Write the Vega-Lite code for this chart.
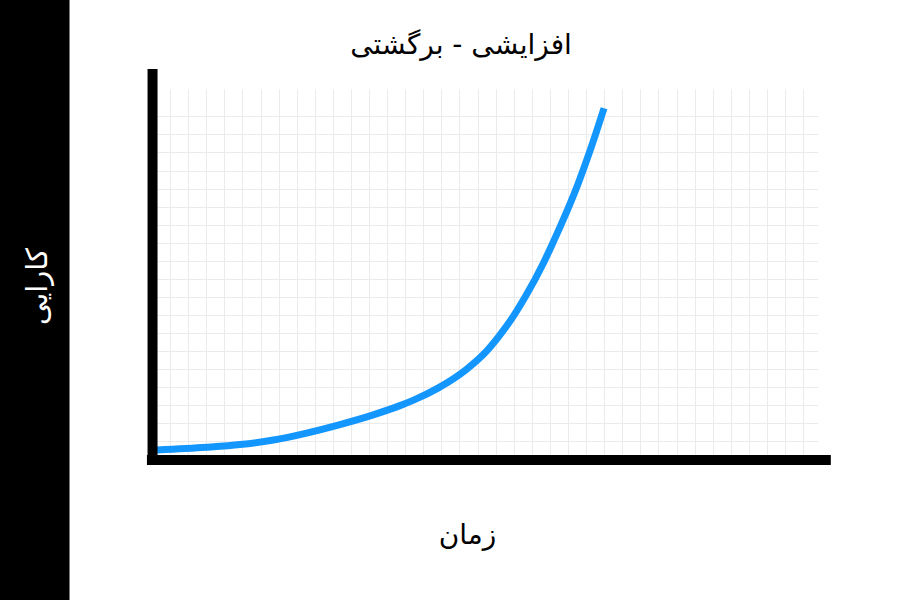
{
  "$schema": "https://vega.github.io/schema/vega-lite/v6.json",
  "width": 666,
  "height": 370,
  "autosize": {"type": "none"},
  "padding": {"left": 152, "top": 89, "right": 82, "bottom": 141},
  "background": "white",
  "title": {
    "text": "افزایشی - برگشتی",
    "font": "DejaVu Sans",
    "fontSize": 28,
    "fontWeight": "normal",
    "color": "black",
    "anchor": "middle",
    "baseline": "alphabetic",
    "offset": 0,
    "dx": -24,
    "dy": 83
  },
  "resolve": {"axis": {"y": "independent"}},
  "config": {
    "view": {"stroke": null},
    "font": "DejaVu Sans",
    "axis": {
      "grid": true,
      "gridColor": "#ebebeb",
      "gridWidth": 1,
      "domain": false,
      "ticks": false,
      "labels": false,
      "titleFont": "DejaVu Sans",
      "titleFontSize": 28,
      "titleFontWeight": "normal"
    },
    "axisX": {
      "titleColor": "black",
      "titleX": 315,
      "titleY": 84,
      "titleAlign": "center",
      "titleBaseline": "alphabetic"
    },
    "axisY": {
      "titleColor": "white",
      "titleFontSize": 29,
      "titleAngle": 270,
      "titleX": -106,
      "titleY": 197,
      "titleAlign": "center",
      "titleBaseline": "alphabetic"
    }
  },
  "layer": [
    {
      "data": {"values": [{}]},
      "mark": {"type": "rect", "color": "black"},
      "encoding": {
        "x": {"datum": -8.45, "type": "quantitative", "scale": {"domain": [0, 36.82], "nice": false, "zero": false}, "axis": {"title": "زمان", "values": [0,1,2,3,4,5,6,7,8,9,10,11,12,13,14,15,16,17,18,19,20,21,22,23,24,25,26,27,28,29,30,31,32,33,34,35,36]}},
        "x2": {"datum": -4.56},
        "y": {"datum": 25.5, "type": "quantitative", "scale": {"domain": [0, 20.52], "nice": false, "zero": false}, "axis": {"title": null, "orient": "left", "grid": true, "zindex": 0, "values": [0,1,2,3,4,5,6,7,8,9,10,11,12,13,14,15,16,17,18,19]}},
        "y2": {"datum": -7.9}
      }
    },
    {
      "data": {
        "values": [
          {"time": 0.28, "performance": 0.50},
          {"time": 3.02, "performance": 0.65},
          {"time": 4.87, "performance": 0.80},
          {"time": 6.71, "performance": 1.05},
          {"time": 8.55, "performance": 1.44},
          {"time": 10.39, "performance": 1.91},
          {"time": 12.23, "performance": 2.45},
          {"time": 13.71, "performance": 2.96},
          {"time": 14.43, "performance": 3.25},
          {"time": 15.81, "performance": 3.93},
          {"time": 17.36, "performance": 4.95},
          {"time": 18.47, "performance": 5.95},
          {"time": 19.29, "performance": 6.95},
          {"time": 20.01, "performance": 7.97},
          {"time": 20.62, "performance": 8.97},
          {"time": 21.67, "performance": 10.93},
          {"time": 22.11, "performance": 11.87},
          {"time": 22.61, "performance": 12.98},
          {"time": 23.52, "performance": 15.17},
          {"time": 24.27, "performance": 17.25},
          {"time": 24.99, "performance": 19.45}
        ]
      },
      "mark": {"type": "line", "color": "#1496ff", "strokeWidth": 7, "strokeCap": "butt", "interpolate": "monotone"},
      "encoding": {
        "x": {"field": "time", "type": "quantitative", "scale": {"domain": [0, 36.82], "nice": false, "zero": false}, "axis": {"title": "زمان", "values": [0,1,2,3,4,5,6,7,8,9,10,11,12,13,14,15,16,17,18,19,20,21,22,23,24,25,26,27,28,29,30,31,32,33,34,35,36]}},
        "y": {"field": "performance", "type": "quantitative", "scale": {"domain": [0, 20.52], "nice": false, "zero": false}, "axis": {"title": "کارایی", "orient": "left", "grid": false, "zindex": 2}}
      }
    },
    {
      "data": {"values": [{}]},
      "mark": {"type": "rule", "color": "black", "strokeWidth": 10},
      "encoding": {
        "x": {"datum": 0.03, "type": "quantitative", "scale": {"domain": [0, 36.82], "nice": false, "zero": false}, "axis": {"title": "زمان", "values": [0,1,2,3,4,5,6,7,8,9,10,11,12,13,14,15,16,17,18,19,20,21,22,23,24,25,26,27,28,29,30,31,32,33,34,35,36]}},
        "y": {"datum": -0.33, "type": "quantitative", "scale": {"domain": [0, 20.52], "nice": false, "zero": false}, "axis": null},
        "y2": {"datum": 21.63}
      }
    },
    {
      "data": {"values": [{}]},
      "mark": {"type": "rule", "color": "black", "strokeWidth": 10},
      "encoding": {
        "x": {"datum": -0.28, "type": "quantitative", "scale": {"domain": [0, 36.82], "nice": false, "zero": false}, "axis": {"title": "زمان", "values": [0,1,2,3,4,5,6,7,8,9,10,11,12,13,14,15,16,17,18,19,20,21,22,23,24,25,26,27,28,29,30,31,32,33,34,35,36]}},
        "x2": {"datum": 37.53},
        "y": {"datum": -0.05, "type": "quantitative", "scale": {"domain": [0, 20.52], "nice": false, "zero": false}, "axis": null}
      }
    }
  ]
}
